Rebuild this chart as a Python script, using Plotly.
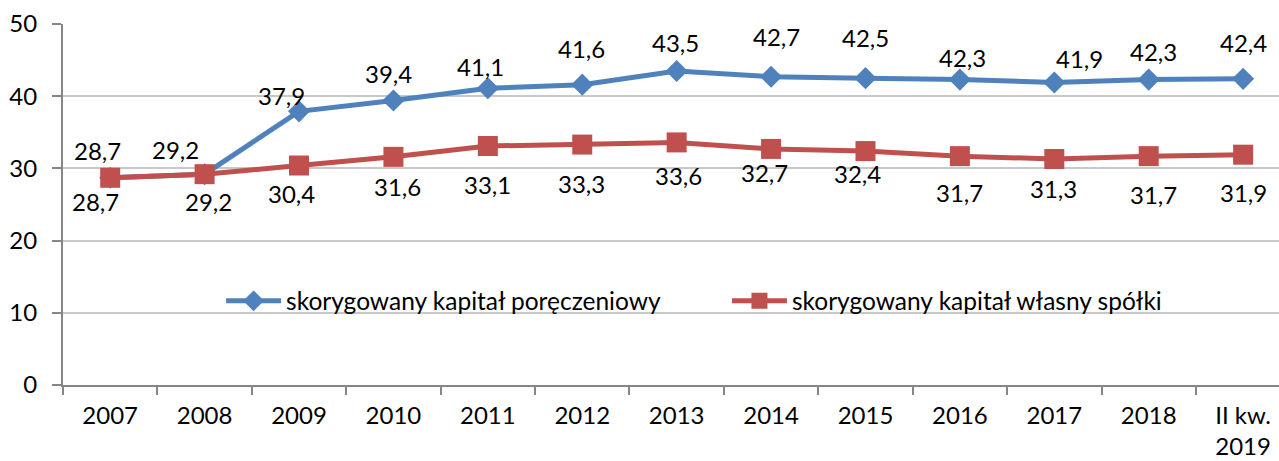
import plotly.graph_objects as go

categories = ["2007", "2008", "2009", "2010", "2011", "2012", "2013",
              "2014", "2015", "2016", "2017", "2018", "II kw.<br>2019"]
kapital_poreczeniowy = [28.7, 29.2, 37.9, 39.4, 41.1, 41.6, 43.5, 42.7, 42.5, 42.3, 41.9, 42.3, 42.4]
kapital_wlasny = [28.7, 29.2, 30.4, 31.6, 33.1, 33.3, 33.6, 32.7, 32.4, 31.7, 31.3, 31.7, 31.9]
name_blue = "skorygowany kapitał poręczeniowy"
name_red = "skorygowany kapitał własny spółki"

# label offsets (pixels) – styling only
blue_dx = [-13, -29, -18, -5, -7, -1, -1, 5, 0, 3, 25, 5, 0]
blue_dy = [27, 25, 16, 27, 22, 36, 28, 40, 41, 22, 24, 28, 36]
red_dx = [-15, 4, -8, 4, 0, -1, 2, -7, -8, 0, -1, 5, 0]
red_dy = [-24, -27, -28, -30, -38, -39, -33, -24, -22, -36, -29, -38, -38]

BLUE = "#4F81BD"
RED = "#C0504D"
FONT = "Lato"
FS = 24

fig = go.Figure()
fig.add_trace(go.Scatter(
    x=categories, y=kapital_poreczeniowy, name=name_blue, mode="lines+markers",
    line=dict(color=BLUE, width=5),
    marker=dict(symbol="diamond", size=17, color=BLUE),
    legend="legend", showlegend=True,
))
fig.add_trace(go.Scatter(
    x=categories, y=kapital_wlasny, name=name_red, mode="lines+markers",
    line=dict(color=RED, width=5),
    marker=dict(symbol="square", size=20, color=RED),
    legend="legend2", showlegend=True,
))

def fmt(v):
    return f"{v:.1f}".replace(".", ",")

annotations = []
for i, (v, dx, dy) in enumerate(zip(kapital_poreczeniowy, blue_dx, blue_dy)):
    annotations.append(dict(x=i, y=v, xref="x", yref="y", text=fmt(v), showarrow=False,
                            xshift=dx, yshift=dy,
                            font=dict(family=FONT, size=FS, color="#000")))
for i, (v, dx, dy) in enumerate(zip(kapital_wlasny, red_dx, red_dy)):
    annotations.append(dict(x=i, y=v, xref="x", yref="y", text=fmt(v), showarrow=False,
                            xshift=dx, yshift=dy,
                            font=dict(family=FONT, size=FS, color="#000")))

fig.update_layout(
    width=1279, height=461,
    margin=dict(l=63, r=0, t=24, b=76, autoexpand=False),
    paper_bgcolor="white", plot_bgcolor="white",
    separators=", ",
    showlegend=True,
    font=dict(family=FONT, size=FS, color="#000"),
    annotations=annotations,
    legend=dict(x=0.130, y=0.233, xanchor="left", yanchor="middle",
                bgcolor="rgba(0,0,0,0)", font=dict(family=FONT, size=24.5),
                itemsizing="trace", itemwidth=55),
    legend2=dict(x=0.546, y=0.233, xanchor="left", yanchor="middle",
                 bgcolor="rgba(0,0,0,0)", font=dict(family=FONT, size=24.5),
                 itemsizing="trace", itemwidth=55),
)
fig.update_xaxes(
    type="category", range=[-0.5, 12.38],
    showline=True, linecolor="#868686", linewidth=2,
    ticks="outside", tickson="boundaries", ticklen=8, tickcolor="#868686", tickwidth=2,
    showgrid=False, automargin=False, ticklabelstandoff=8,
    tickfont=dict(family=FONT, size=FS, color="#000"),
)
fig.update_yaxes(
    range=[0, 50], tickvals=[0, 10, 20, 30, 40, 50],
    showline=True, linecolor="#868686", linewidth=2,
    ticks="outside", ticklen=9, tickcolor="#868686", tickwidth=2,
    showgrid=True, gridcolor="#C8C8C8", gridwidth=1.5,
    zeroline=False, automargin=False, ticklabelstandoff=10,
    tickfont=dict(family=FONT, size=FS, color="#000"),
)

fig.write_html("out.html", config={"displayModeBar": False},
               post_script="document.body.style.margin='0';document.body.style.overflow='hidden';")
